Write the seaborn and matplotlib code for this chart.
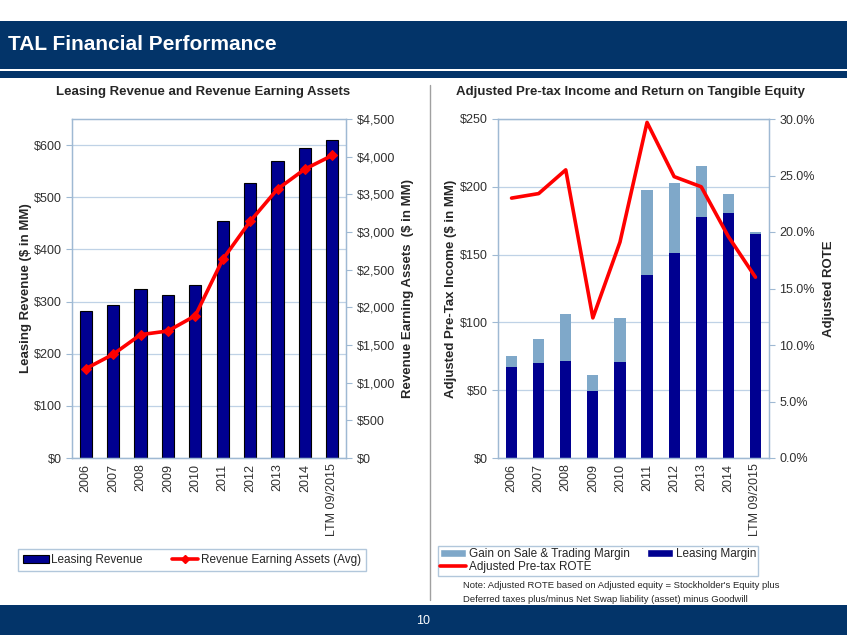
import numpy as np
import matplotlib
matplotlib.use("Agg")
import matplotlib.pyplot as plt
import seaborn as sns
from matplotlib.patches import Rectangle, Patch
from matplotlib.lines import Line2D
from matplotlib.ticker import FuncFormatter, MultipleLocator

# chart values
years = ["2006", "2007", "2008", "2009", "2010", "2011", "2012", "2013", "2014", "LTM 09/2015"]
leasing_revenue = [281, 294, 324, 312, 331, 454, 528, 570, 595, 609]
earning_assets = [1185, 1376, 1637, 1686, 1889, 2636, 3141, 3570, 3835, 4017]
leasing_margin = [67, 70, 71.5, 49.5, 71, 135, 151, 178, 181, 165.5]
gain_on_sale = [8.5, 18, 35, 11.5, 32, 63, 52, 37.5, 14, 1.5]
adj_rote = [23.0, 23.4, 25.5, 12.4, 19.1, 29.7, 24.9, 24.0, 19.6, 16.0]

NAVY = "#000090"
LIGHT = "#7fa8c9"
RED = "#ff0000"
SPINE = "#9fb9d3"
GRID = "#bfd2e6"
HEADER = "#033469"
TXT = "#303030"

sns.set_style("white")
plt.rcParams["font.family"] = ["Liberation Sans", "DejaVu Sans"]

fig = plt.figure(figsize=(8.47, 6.35), dpi=100)


def px(x0, y0, x1, y1):
    # pixel box -> figure fraction rect
    return [x0 / 847, 1 - y1 / 635, (x1 - x0) / 847, (y1 - y0) / 635]


def style_axes(ax, step):
    for s in ax.spines.values():
        s.set_color(SPINE)
        s.set_linewidth(1)
    ax.yaxis.set_major_locator(MultipleLocator(step))
    ax.grid(axis="y", color=GRID, linewidth=0.9)
    ax.grid(axis="x", visible=False)
    ax.set_axisbelow(True)
    ax.set_xlim(-0.5, len(years) - 0.5)
    ax.set_xticks(np.arange(-0.5, len(years), 1), minor=True)
    ax.tick_params(axis="x", which="major", length=0, labelsize=9, labelcolor=TXT,
                   labelrotation=90, pad=4)
    ax.tick_params(axis="x", which="minor", length=5, color=SPINE, direction="out")
    ax.tick_params(axis="y", length=4, color=SPINE, direction="out", labelsize=9,
                   labelcolor=TXT, left=True)
    ax.set_xlabel("")


# ---------------- left chart ----------------
ax1 = fig.add_axes(px(72, 119, 346, 458))
sns.barplot(x=years, y=leasing_revenue, color=NAVY, saturation=1, width=0.44,
            edgecolor="black", linewidth=0.8, ax=ax1)
ax1.set_ylim(0, 650)
style_axes(ax1, 100)
ax1.yaxis.set_major_formatter(FuncFormatter(lambda v, p: f"${v:,.0f}"))
ax1.set_ylabel("Leasing Revenue ($ in MM)", fontsize=9.5, fontweight="bold", labelpad=1)

ax1b = ax1.twinx()
sns.lineplot(x=np.arange(len(years)), y=earning_assets, color=RED, linewidth=2.6,
             marker="D", markersize=5, markeredgecolor=RED, ax=ax1b)
ax1b.set_ylim(0, 4500)
ax1b.set_xlim(-0.5, len(years) - 0.5)
ax1b.yaxis.set_major_locator(MultipleLocator(500))
ax1b.yaxis.set_major_formatter(FuncFormatter(lambda v, p: f"${v:,.0f}"))
ax1b.tick_params(axis="y", length=4, color=SPINE, direction="out", labelsize=9,
                 labelcolor=TXT, right=True)
for s in ax1b.spines.values():
    s.set_color(SPINE)
ax1b.set_ylabel("Revenue Earning Assets  ($ in MM)", fontsize=9.5, fontweight="bold",
                labelpad=5)
ax1.set_title("Leasing Revenue and Revenue Earning Assets", fontsize=9.5,
              fontweight="bold", pad=17, x=0.48)

# ---------------- right chart ----------------
totals = [a + b for a, b in zip(leasing_margin, gain_on_sale)]
ax2 = fig.add_axes(px(498, 119, 769, 458))
sns.barplot(x=years, y=totals, color=LIGHT, saturation=1, width=0.41, linewidth=0, ax=ax2)
sns.barplot(x=years, y=leasing_margin, color=NAVY, saturation=1, width=0.41, linewidth=0,
            ax=ax2)
ax2.set_ylim(0, 250)
style_axes(ax2, 50)
ax2.yaxis.set_major_formatter(FuncFormatter(lambda v, p: f"${v:,.0f}"))
ax2.set_ylabel("Adjusted Pre-Tax Income ($ in MM)", fontsize=9.5, fontweight="bold",
               labelpad=2)

ax2b = ax2.twinx()
sns.lineplot(x=np.arange(len(years)), y=adj_rote, color=RED, linewidth=2.6, ax=ax2b)
ax2b.set_ylim(0, 30)
ax2b.set_xlim(-0.5, len(years) - 0.5)
ax2b.yaxis.set_major_locator(MultipleLocator(5))
ax2b.yaxis.set_major_formatter(FuncFormatter(lambda v, p: f"{v:.1f}%"))
ax2b.tick_params(axis="y", length=4, color=SPINE, direction="out", labelsize=9,
                 labelcolor=TXT, right=True)
for s in ax2b.spines.values():
    s.set_color(SPINE)
ax2b.set_ylabel("Adjusted ROTE", fontsize=9.5, fontweight="bold", labelpad=6)
ax2.set_title("Adjusted Pre-tax Income and Return on Tangible Equity", fontsize=9.5,
              fontweight="bold", pad=17, x=0.49)

# ---------------- legends ----------------
h1 = [Patch(facecolor=NAVY, edgecolor="black", linewidth=0.8),
      Line2D([], [], color=RED, linewidth=2.6, marker="D", markersize=4)]
fig.legend(h1, ["Leasing Revenue", "Revenue Earning Assets (Avg)"], ncol=2,
           loc="center", bbox_to_anchor=(192 / 847, 1 - 560 / 635), fontsize=8.5,
           frameon=True, fancybox=False, edgecolor=SPINE, handlelength=2.2,
           handletextpad=0.2, columnspacing=2.5, borderpad=0.4)
h2 = [Patch(facecolor=LIGHT), Line2D([], [], color=RED, linewidth=2.6),
      Patch(facecolor=NAVY)]
fig.legend(h2, ["Gain on Sale & Trading Margin", "Adjusted Pre-tax ROTE", "Leasing Margin"],
           ncol=2, loc="upper left", bbox_to_anchor=(432 / 847, 1 - 540 / 635),
           fontsize=8.5, frameon=True, fancybox=False, edgecolor=SPINE,
           handlelength=2.2, handletextpad=0.2, columnspacing=1.5, borderpad=0.2,
           labelspacing=0.1)

fig.text(463 / 847, 1 - 586 / 635,
         "Note: Adjusted ROTE based on Adjusted equity = Stockholder's Equity plus",
         fontsize=6.8, va="center", ha="left")
fig.text(463 / 847, 1 - 599 / 635,
         "Deferred taxes plus/minus Net Swap liability (asset) minus Goodwill",
         fontsize=6.8, va="center", ha="left")

# ---------------- slide chrome ----------------
fig.patches.append(Rectangle((0, 1 - 78 / 635), 1, 57 / 635, transform=fig.transFigure,
                             facecolor=HEADER, edgecolor="none", zorder=0))
fig.patches.append(Rectangle((0, 1 - 70.5 / 635), 1, 1.2 / 635, transform=fig.transFigure,
                             facecolor="white", edgecolor="none", zorder=1))
fig.text(8 / 847, 1 - 45 / 635, "TAL Financial Performance", color="white",
         fontsize=15, fontweight="bold", va="center", ha="left")
fig.patches.append(Rectangle((0, 0), 1, 30 / 635, transform=fig.transFigure,
                             facecolor=HEADER, edgecolor="none", zorder=0))
fig.text(423 / 847, 1 - 621 / 635, "10", color="white", fontsize=9, ha="center",
         va="center")
fig.lines.append(Line2D([430 / 847, 430 / 847], [1 - 85 / 635, 1 - 600 / 635],
                        transform=fig.transFigure, color="#a0a0a0", linewidth=1))

fig.savefig("out.png", dpi=100)
